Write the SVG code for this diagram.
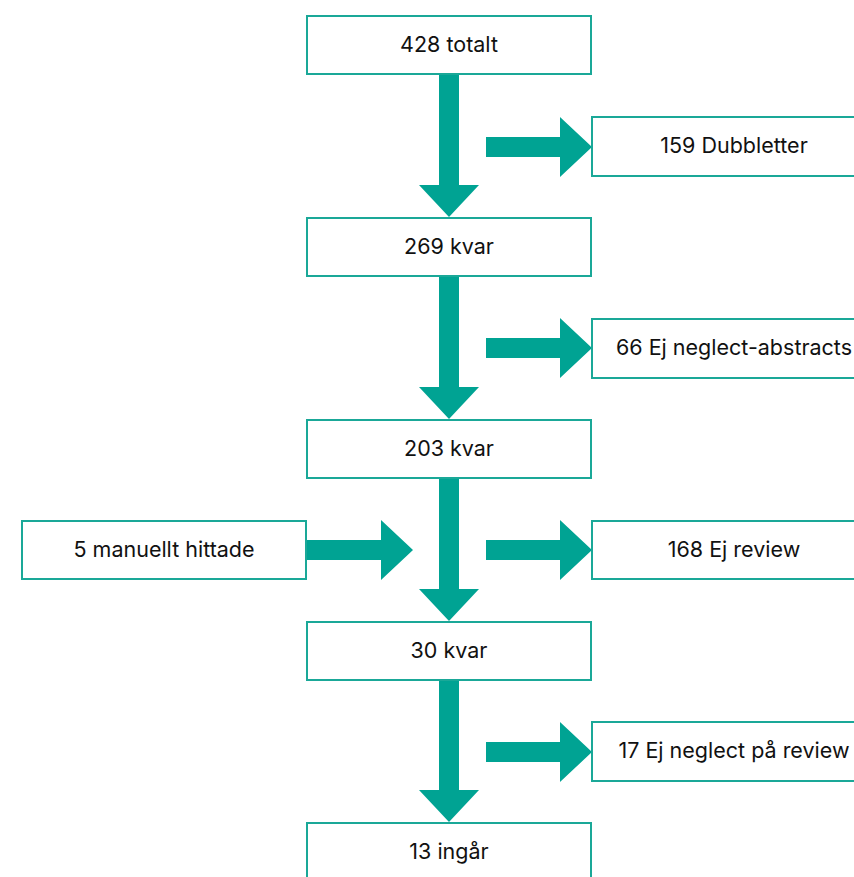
<svg xmlns="http://www.w3.org/2000/svg" width="854" height="877" viewBox="0 0 854 877">
<style>
.box{fill:#ffffff;stroke:#1aa898;stroke-width:2}
.lbl{font-family:Inter,"Liberation Sans",sans-serif;font-size:21.5px;fill:#111111;text-anchor:middle}
.arr{fill:#00a393}
</style>
<rect width="854" height="877" fill="#ffffff"/>
<g id="connectors">
<polygon class="arr" points="439,75 459,75 459,185 479,185 449,217 419,185 439,185"/>
<polygon class="arr" points="439,277 459,277 459,387 479,387 449,419 419,387 439,387"/>
<polygon class="arr" points="439,479 459,479 459,589 479,589 449,621 419,589 439,589"/>
<polygon class="arr" points="439,681 459,681 459,790 479,790 449,822 419,790 439,790"/>
<polygon class="arr" points="486,137 560,137 560,117 592,147 560,177 560,157 486,157"/>
<polygon class="arr" points="486,338 560,338 560,318 592,348 560,378 560,358 486,358"/>
<polygon class="arr" points="486,540 560,540 560,520 592,550 560,580 560,560 486,560"/>
<polygon class="arr" points="486,742 560,742 560,722 592,752 560,782 560,762 486,762"/>
<polygon class="arr" points="306,540 381,540 381,520 413,550 381,580 381,560 306,560"/>
</g>
<g id="n428"><rect class="box" x="307" y="16" width="284" height="58"/><text class="lbl" x="449" y="52">428 totalt</text></g>
<g id="n269"><rect class="box" x="307" y="218" width="284" height="58"/><text class="lbl" x="449" y="254">269 kvar</text></g>
<g id="n203"><rect class="box" x="307" y="420" width="284" height="58"/><text class="lbl" x="449" y="456">203 kvar</text></g>
<g id="n30"><rect class="box" x="307" y="622" width="284" height="58"/><text class="lbl" x="449" y="658">30 kvar</text></g>
<g id="n13"><rect class="box" x="307" y="823" width="284" height="58"/><text class="lbl" x="449" y="859">13 ingår</text></g>
<g id="n159"><rect class="box" x="592" y="117" width="284" height="59"/><text class="lbl" x="734" y="153">159 Dubbletter</text></g>
<g id="n66"><rect class="box" x="592" y="319" width="284" height="59"/><text class="lbl" x="734" y="355">66 Ej neglect-abstracts</text></g>
<g id="n168"><rect class="box" x="592" y="521" width="284" height="58"/><text class="lbl" x="734" y="557">168 Ej review</text></g>
<g id="n17"><rect class="box" x="592" y="722" width="284" height="59"/><text class="lbl" x="734" y="758">17 Ej neglect på review</text></g>
<g id="n5"><rect class="box" x="22" y="521" width="284" height="58"/><text class="lbl" x="164" y="557">5 manuellt hittade</text></g>
</svg>
